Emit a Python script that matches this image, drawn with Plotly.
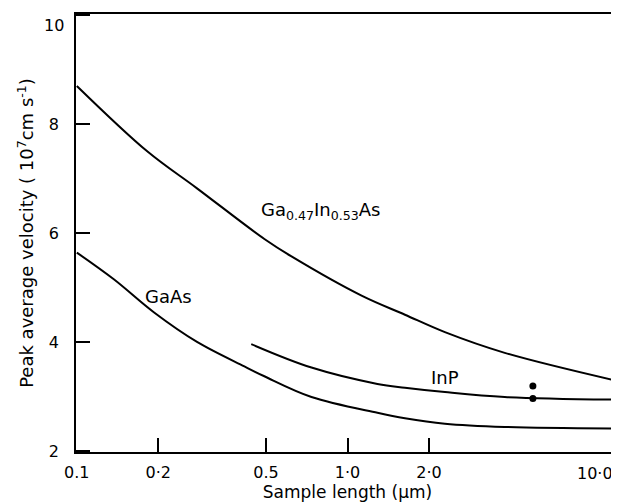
import math
import plotly.graph_objects as go

# Sample length (um) and peak average velocity (1e7 cm/s)
gainas_x = [0.1, 0.182, 0.278, 0.493, 0.621, 1.127, 1.63, 2.29, 3.81, 10.0]
gainas_y = [8.70, 7.50, 6.82, 5.89, 5.57, 4.85, 4.50, 4.18, 3.80, 3.28]

gaas_x = [0.1, 0.137, 0.193, 0.278, 0.416, 0.493, 0.736, 1.29, 1.63, 2.29, 3.81, 10.0]
gaas_y = [5.64, 5.15, 4.54, 4.00, 3.55, 3.37, 2.99, 2.70, 2.60, 2.50, 2.44, 2.41]

inp_x = [0.441, 0.736, 1.29, 1.63, 2.29, 3.81, 10.0]
inp_y = [3.96, 3.53, 3.23, 3.16, 3.08, 2.99, 2.94]

dots_x = [4.84, 4.84]
dots_y = [3.19, 2.96]

x_tickvals = [0.1, 0.2, 0.5, 1.0, 2.0, 10.0]
x_ticktext = ["0.1", "0·2", "0.5", "1·0", "2·0", ""]
x_end_label = "10·0"
y_tickvals = [2, 4, 6, 8, 10]
y_ticktext = ["2", "4", "6", "8", ""]
y_end_label = "10"

FONT = "DejaVu Sans"

fig = go.Figure()
line = dict(color="black", width=2, shape="spline", smoothing=1.0)
fig.add_trace(go.Scatter(x=gainas_x, y=gainas_y, mode="lines", line=line, showlegend=False))
fig.add_trace(go.Scatter(x=gaas_x, y=gaas_y, mode="lines", line=line, showlegend=False))
fig.add_trace(go.Scatter(x=inp_x, y=inp_y, mode="lines", line=line, showlegend=False))
fig.add_trace(go.Scatter(x=dots_x, y=dots_y, mode="markers",
                         marker=dict(color="black", size=7), showlegend=False))

labels = [
    (0.80, 6.40, "Ga<sub>0.47</sub>In<sub>0.53</sub>As"),
    (0.219, 4.83, "GaAs"),
    (2.29, 3.34, "InP"),
]
for lx, ly, lt in labels:
    fig.add_annotation(x=math.log10(lx), y=ly, xref="x", yref="y", text=lt, showarrow=False,
                       font=dict(family=FONT, size=18, color="black"))

# end labels of the axes, kept inside the page
fig.add_annotation(x=1.0, y=0, xref="paper", yref="paper", text=x_end_label,
                   showarrow=False, xanchor="right", yanchor="top", xshift=-4, yshift=-10,
                   font=dict(family=FONT, size=16, color="black"))
fig.add_annotation(x=0, y=1.0, xref="paper", yref="paper", text=y_end_label,
                   showarrow=False, xanchor="right", yanchor="top", xshift=-10, yshift=0,
                   font=dict(family=FONT, size=16, color="black"))

fig.update_xaxes(type="log", range=[-1.003, 1.003], tickvals=x_tickvals, ticktext=x_ticktext,
                 ticks="inside", ticklen=14, tickwidth=1.5, tickcolor="black",
                 showline=True, linecolor="black", linewidth=1.8, mirror=True,
                 showgrid=False, zeroline=False, ticklabelstandoff=5,
                 ticklabeloverflow="allow", automargin=False,
                 title=dict(text="Sample length (μm)", font=dict(family=FONT, size=17), standoff=0),
                 tickfont=dict(family=FONT, size=16, color="black"))
fig.update_yaxes(range=[1.98, 10.02], tickvals=y_tickvals, ticktext=y_ticktext,
                 ticks="inside", ticklen=14, tickwidth=1.5, tickcolor="black",
                 showline=True, linecolor="black", linewidth=1.8, mirror=True,
                 showgrid=False, zeroline=False, ticklabelstandoff=12,
                 ticklabeloverflow="allow", automargin=False,
                 title=dict(text="Peak average velocity ( 10<sup>7</sup>cm s<sup>-1</sup>)",
                            font=dict(family=FONT, size=18), standoff=10),
                 tickfont=dict(family=FONT, size=16, color="black"))

fig.update_layout(width=619, height=502, margin=dict(l=68, r=8, t=6, b=58),
                  plot_bgcolor="white", paper_bgcolor="white",
                  font=dict(family=FONT, color="black"))

fig.write_html("out.html")
